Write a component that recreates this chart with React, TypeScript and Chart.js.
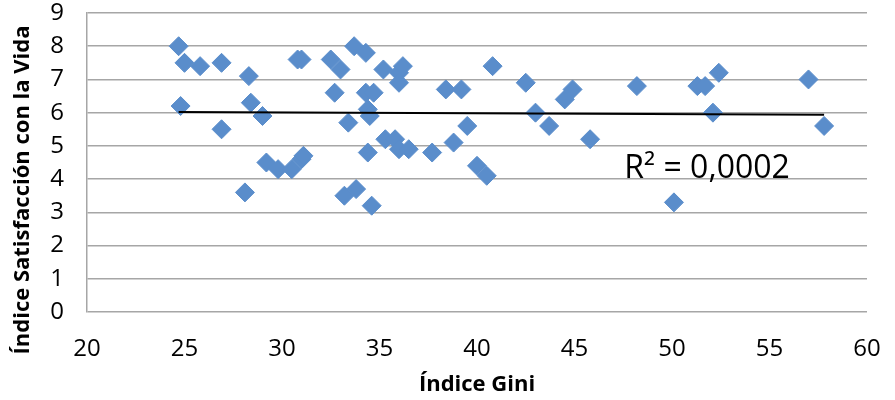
import React, { useEffect, useRef } from "react";
import { Chart, registerables } from "chart.js";

Chart.register(...registerables);

const giniValues: number[] = [
  24.7, 25.0, 25.8, 26.9, 28.3, 24.8, 28.4, 29.0, 26.9, 28.1,
  29.2, 29.8, 30.5, 31.0, 31.1, 30.8, 31.0, 32.5, 33.0, 33.7,
  34.3, 32.7, 33.4, 34.4, 33.2, 33.8, 34.6, 34.3, 34.7, 34.4,
  34.5, 35.2, 36.0, 36.2, 36.0, 35.3, 35.8, 36.0, 36.5, 37.7,
  38.4, 39.2, 40.8, 39.5, 38.8, 40.0, 40.5, 42.5, 43.0, 43.7,
  44.5, 44.9, 45.8, 48.2, 51.3, 51.7, 52.4, 52.1, 50.1, 57.0,
  57.8,
];

const satisfactionValues: number[] = [
  8.0, 7.5, 7.4, 7.5, 7.1, 6.2, 6.3, 5.9, 5.5, 3.6,
  4.5, 4.3, 4.3, 4.6, 4.7, 7.6, 7.6, 7.6, 7.3, 8.0,
  7.8, 6.6, 5.7, 4.8, 3.5, 3.7, 3.2, 6.6, 6.6, 6.1,
  5.9, 7.3, 7.2, 7.4, 6.9, 5.2, 5.2, 4.9, 4.9, 4.8,
  6.7, 6.7, 7.4, 5.6, 5.1, 4.4, 4.1, 6.9, 6.0, 5.6,
  6.4, 6.7, 5.2, 6.8, 6.8, 6.8, 7.2, 6.0, 3.3, 7.0,
  5.6,
];

const trendX: number[] = [24.7, 57.8];
const trendY: number[] = [6.02, 5.94];

const r2Label = "R² = 0,0002";
const r2LabelPos = { x: 51.8, y: 4.3 };

const xTitle = "Índice Gini";
const yTitle = "Índice Satisfacción con la Vida";

const FONT = '"Open Sans", sans-serif';

export default function App() {
  const ref = useRef<HTMLCanvasElement | null>(null);

  useEffect(() => {
    if (!ref.current) return;
    const points = giniValues.map((g, i) => ({ x: g, y: satisfactionValues[i] }));
    const trend = trendX.map((x, i) => ({ x, y: trendY[i] }));

    const labelPlugin = {
      id: "labels",
      afterDatasetsDraw(chart: any) {
        const { ctx, scales, chartArea } = chart;
        ctx.save();
        // R² annotation
        const px = scales.x.getPixelForValue(r2LabelPos.x);
        const py = scales.y.getPixelForValue(r2LabelPos.y);
        ctx.font = `32px ${FONT}`;
        ctx.fillStyle = "#000";
        ctx.textAlign = "center";
        ctx.textBaseline = "middle";
        ctx.fillText(r2Label, px, py);
        // axis titles
        ctx.font = `bold 22px ${FONT}`;
        ctx.textAlign = "center";
        ctx.textBaseline = "middle";
        ctx.fillText(xTitle, (chartArea.left + chartArea.right) / 2, 385);
        ctx.translate(23, 190);
        ctx.rotate(-Math.PI / 2);
        ctx.fillText(yTitle, 0, 0);
        ctx.restore();
      },
    };

    const chart = new Chart(ref.current, {
      type: "scatter",
      data: {
        datasets: [
          {
            type: "line",
            data: trend,
            borderColor: "#000000",
            borderWidth: 2,
            pointRadius: 0,
            fill: false,
            order: 0,
          } as any,
          {
            data: points,
            pointStyle: "rectRot",
            pointRadius: 9.5,
            pointHoverRadius: 9.5,
            backgroundColor: "#5a8dcb",
            borderColor: "#5a8dcb",
            borderWidth: 1,
            order: 1,
          },
        ],
      },
      options: {
        animation: false,
        responsive: false,
        maintainAspectRatio: false,
        layout: { padding: { top: 13, right: 28, left: 0, bottom: 0 } },
        plugins: { legend: { display: false }, tooltip: { enabled: false } },
        scales: {
          x: {
            type: "linear",
            min: 20,
            max: 60,
            ticks: {
              stepSize: 5,
              color: "#000",
              font: { family: FONT, size: 24 },
              padding: 23,
            },
            grid: { display: false, drawTicks: false },
            border: { display: false },
            afterFit(scale: any) {
              scale.height = 88;
              scale.paddingLeft = 0;
              scale.paddingRight = 0;
            },
          },
          y: {
            type: "linear",
            min: 0,
            max: 9,
            ticks: {
              stepSize: 1,
              color: "#000",
              font: { family: FONT, size: 24 },
              padding: 23,
            },
            grid: { color: "#a6a6a6", lineWidth: 1.5, drawTicks: false },
            border: { display: true, color: "#a6a6a6", width: 1.5 },
            afterFit(scale: any) {
              scale.width = 87;
              scale.paddingTop = 0;
              scale.paddingBottom = 0;
            },
          },
        },
      },
      plugins: [labelPlugin],
    });
    return () => chart.destroy();
  }, []);

  return (
    <div style={{ position: "fixed", left: 0, top: 0, width: 895, height: 400, background: "#fff" }}>
      <canvas ref={ref} width={895} height={400} style={{ display: "block" }} />
    </div>
  );
}
